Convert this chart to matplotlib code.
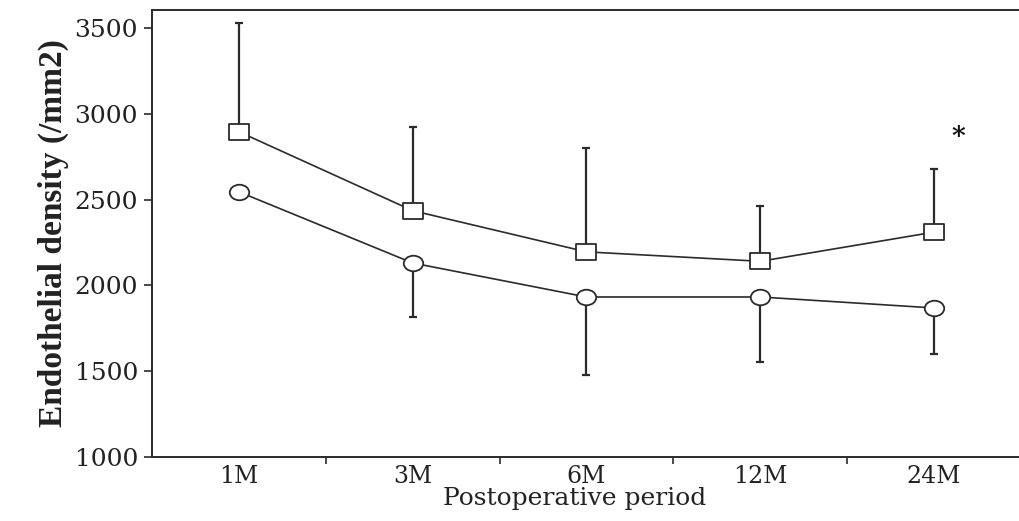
import numpy as np
import matplotlib
matplotlib.use("Agg")
import matplotlib.pyplot as plt
from matplotlib.path import Path
from matplotlib.transforms import Affine2D

# ── Data ──────────────────────────────────────────────────────────
periods = ["1M", "3M", "6M", "12M", "24M"]

square_mean = [2895, 2435, 2195, 2140, 2310]
square_top = [3530, 2925, 2800, 2465, 2675]      # upper end of error bar

circle_mean = [2545, 2130, 1932, 1932, 1868]
circle_bottom = [2545, 1815, 1478, 1553, 1600]   # lower end of error bar

star_pos = (4.14, 2870)

# ── Style ─────────────────────────────────────────────────────────
_INK = "#2b2b2b"
_SERIF = ["DejaVu Serif"]

rect_marker = Path([(-1.3, -1), (1.3, -1), (1.3, 1), (-1.3, 1), (-1.3, -1)],
                   [Path.MOVETO, Path.LINETO, Path.LINETO, Path.LINETO, Path.CLOSEPOLY])
oval_marker = Affine2D().scale(1.25, 1.0).transform_path(Path.unit_circle())

fig = plt.figure(figsize=(10.2, 5.21), dpi=100)
ax = fig.add_axes([0.149, 0.123, 0.852, 0.858])

x = np.arange(len(periods))
sq_mean = np.array(square_mean)
ci_mean = np.array(circle_mean)
sq_err = [np.zeros_like(sq_mean), np.array(square_top) - sq_mean]
ci_err = [ci_mean - np.array(circle_bottom), np.zeros_like(ci_mean)]

ax.errorbar(x, sq_mean, yerr=sq_err, fmt="none", ecolor=_INK,
            elinewidth=1.6, capsize=3, capthick=1.6, zorder=2)
# the 1M circle has no visible error bar
ax.errorbar(x[1:], ci_mean[1:], yerr=[e[1:] for e in ci_err], fmt="none",
            ecolor=_INK, elinewidth=1.6, capsize=3, capthick=1.6, zorder=2)

ax.plot(x, sq_mean, color=_INK, linewidth=1.2, marker=rect_marker,
        markersize=15, markerfacecolor="white", markeredgecolor=_INK,
        markeredgewidth=1.3, zorder=3)
ax.plot(x, ci_mean, color=_INK, linewidth=1.2, marker=oval_marker,
        markersize=14, markerfacecolor="white", markeredgecolor=_INK,
        markeredgewidth=1.3, zorder=3)

ax.text(star_pos[0], star_pos[1], "*", fontsize=19, fontweight="bold",
        color="#111111", ha="center", va="center", family=_SERIF)

ax.set_xlim(-0.5, 4.5)
ax.set_ylim(1000, 3605)

# category boundaries carry the tick marks, labels sit at the centres
ax.set_xticks(np.arange(0.5, 4.0, 1.0))
ax.set_xticklabels([])
ax.set_xticks(x, minor=True)
ax.set_xticklabels(periods, minor=True)
ax.tick_params(axis="x", which="major", direction="out", length=5,
               width=1.2, colors=_INK)
ax.tick_params(axis="x", which="minor", length=0, pad=6, labelsize=17,
               labelcolor="#222222")
for lbl in ax.get_xticklabels(minor=True):
    lbl.set_family(_SERIF)

ax.set_yticks(np.arange(1000, 3501, 500))
ax.tick_params(axis="y", direction="out", length=6, width=1.2,
               colors=_INK, labelsize=18, labelcolor="#222222", pad=4)
for lbl in ax.get_yticklabels():
    lbl.set_family(_SERIF)

for name, s in ax.spines.items():
    s.set_color(_INK)
    s.set_linewidth(1.4)

ax.set_xlabel("Postoperative period", fontsize=18, family=_SERIF,
              color="#222222", labelpad=-1)
ax.xaxis.label.set_x(0.486)
ax.set_ylabel("Endothelial density (/mm2)", fontsize=24,
              family=["Liberation Serif"], fontweight="bold",
              color="#222222", labelpad=4)

fig.savefig("out.png", dpi=100, facecolor="white")
